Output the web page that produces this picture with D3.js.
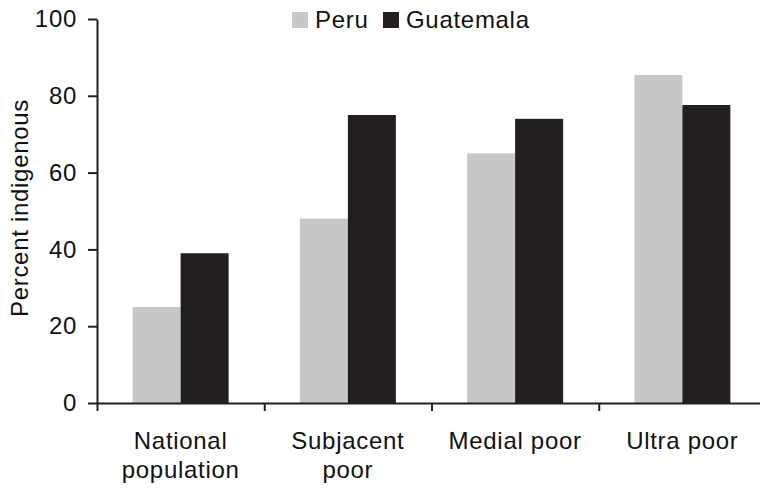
<!DOCTYPE html>
<html>
<head>
<meta charset="utf-8">
<script src="https://cdn.jsdelivr.net/npm/d3@7"></script>
<style>
  body { margin: 0; background: #fff; }
  svg text { font-family: "Liberation Sans", Arial, sans-serif; fill: #111; }
</style>
</head>
<body>
<svg id="chart" width="760" height="489"></svg>
<script>
const categories = [["National", "population"], ["Subjacent", "poor"], ["Medial poor"], ["Ultra poor"]];
const seriesNames = ["Peru", "Guatemala"];
const peru = [25, 48, 65, 85.4];
const guatemala = [39, 75, 74, 77.6];
const yTicks = [0, 20, 40, 60, 80, 100];
const colors = ["#c6c7c9", "#231f20"];

const svg = d3.select("#chart");
const fontSize = 24, ls = 0.7;
const margin = { left: 97, top: 19, bottom: 403 };
const x = d3.scaleBand().domain(d3.range(categories.length)).range([97, 766]).paddingInner(0).paddingOuter(0);
const y = d3.scaleLinear().domain([0, 100]).range([403, 19]);
const groupW = x.bandwidth() * 0.574;
const xs = d3.scaleBand().domain(seriesNames).range([(x.bandwidth() - groupW) / 2, (x.bandwidth() + groupW) / 2]);

const data = categories.map((c, i) => ({ i, values: [peru[i], guatemala[i]] }));

const g = svg.selectAll("g.grp").data(data).join("g").attr("class", "grp")
  .attr("transform", d => `translate(${x(d.i)},0)`);
g.selectAll("rect").data(d => d.values.map((v, k) => ({ v, k })))
  .join("rect")
  .attr("x", d => xs(seriesNames[d.k]))
  .attr("width", xs.bandwidth())
  .attr("y", d => y(d.v))
  .attr("height", d => y(0) - y(d.v))
  .attr("fill", d => colors[d.k]);

// Y axis
const yAxis = d3.axisLeft(y).tickValues(yTicks).tickSize(9).tickPadding(11).tickSizeOuter(0);
const ya = svg.append("g").attr("transform", "translate(97,0)").call(yAxis);
ya.select(".domain").attr("stroke", "#231f20").attr("stroke-width", 2);
ya.selectAll(".tick line").attr("stroke", "#231f20").attr("stroke-width", 2);
ya.selectAll(".tick text").attr("font-size", fontSize).attr("letter-spacing", ls)
  .attr("font-family", "Liberation Sans, Arial, sans-serif").attr("fill", "#111");

// X axis with ticks at band boundaries
const xEdge = d3.scaleLinear().domain([0, categories.length]).range([97, 766]);
const xAxis = d3.axisBottom(xEdge).tickValues(d3.range(0, categories.length + 1)).tickSize(8).tickFormat("").tickSizeOuter(0);
const xa = svg.append("g").attr("transform", "translate(0,403)").call(xAxis);
xa.select(".domain").attr("stroke", "#231f20").attr("stroke-width", 2);
xa.selectAll(".tick line").attr("stroke", "#231f20").attr("stroke-width", 2);

// Category labels
const lbl = svg.selectAll("text.cat").data(categories).join("text").attr("class", "cat")
  .attr("text-anchor", "middle").attr("font-size", fontSize).attr("letter-spacing", ls)
  .attr("transform", (d, i) => `translate(${x(i) + x.bandwidth() / 2},449)`);
lbl.selectAll("tspan").data(d => d).join("tspan")
  .attr("x", 0).attr("dy", (d, j) => j === 0 ? 0 : 28.5).text(d => d);

// Y label
svg.append("text").attr("font-size", fontSize).attr("letter-spacing", ls)
  .attr("text-anchor", "middle")
  .attr("transform", "translate(28,208) rotate(-90)")
  .text("Percent indigenous");

// Legend
const legendX = [292, 383];
const lg = svg.selectAll("g.leg").data(seriesNames).join("g").attr("class", "leg")
  .attr("transform", (d, i) => `translate(${legendX[i]},0)`);
lg.append("rect").attr("x", 0).attr("y", 12).attr("width", 16).attr("height", 16)
  .attr("fill", (d, i) => colors[i]);
lg.append("text").attr("x", 23).attr("y", 28).attr("font-size", fontSize).attr("letter-spacing", ls)
  .text(d => d);
</script>
</body>
</html>
